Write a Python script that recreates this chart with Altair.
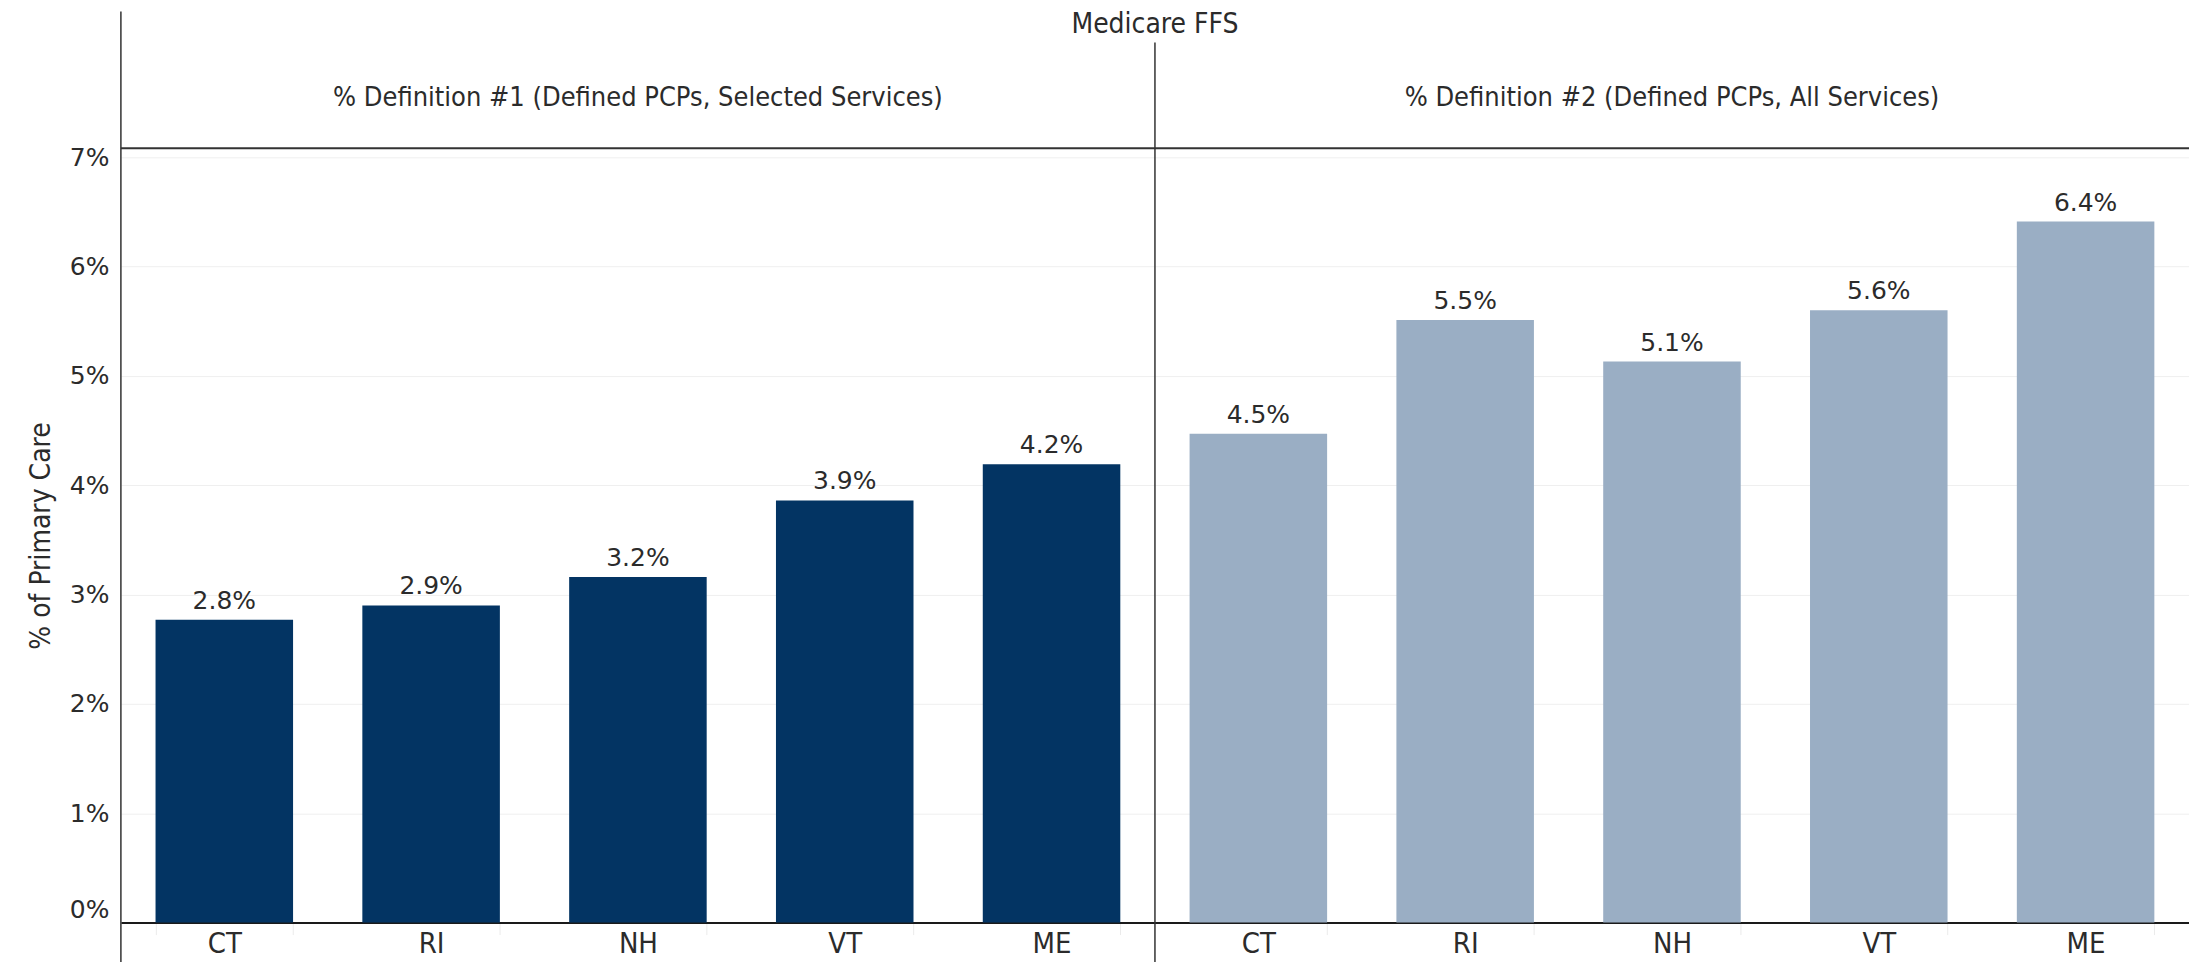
import altair as alt
import pandas as pd

# ---- data ----
states = ["CT", "RI", "NH", "VT", "ME"]
definition_keys = ["D1", "D2"]
definition_names = [
    "% Definition #1 (Defined PCPs, Selected Services)",
    "% Definition #2 (Defined PCPs, All Services)",
]
def1_values = [0.0277, 0.0290, 0.0316, 0.0386, 0.0419]
def2_values = [0.0447, 0.0551, 0.0513, 0.0560, 0.0641]
top_title = "Medicare FFS"
y_title = "% of Primary Care"
y_ticks = [0.0, 0.01, 0.02, 0.03, 0.04, 0.05, 0.06, 0.07]

NAVY = "#033463"
LIGHT = "#9aaec4"
NARROW = "Liberation Sans Narrow, Arial Narrow, DejaVu Sans Condensed, sans-serif"
WIDE = "DejaVu Sans, Verdana, sans-serif"
TXT = "#2b2b2b"

rows = []
for dk, vals in zip(definition_keys, [def1_values, def2_values]):
    for s, v in zip(states, vals):
        rows.append({"key": f"{dk}|{s}", "def": dk, "state": s, "value": v})
df = pd.DataFrame(rows)
keys = list(df["key"])

hdr = pd.DataFrame({
    "key": [f"{dk}|{states[len(states) // 2]}" for dk in definition_keys],
    "name": definition_names,
})

W, H = 2070, 775

x_enc = alt.X(
    "key:N", sort=keys,
    scale=alt.Scale(domain=keys, paddingInner=0.335, paddingOuter=0.1675),
    axis=alt.Axis(
        title=None, labelExpr="split(datum.label, '|')[1]", labelAngle=0,
        labelFont=NARROW, labelFontSize=29, labelColor=TXT,
        ticks=True, tickBand="extent", tickSize=12, tickColor="#ebebeb",
        labelPadding=-5, domainColor="#1a1a1a", domainWidth=2, grid=False,
    ),
)
y_enc = alt.Y(
    "value:Q",
    scale=alt.Scale(domain=[0, 0.0708], nice=False, zero=True),
    axis=alt.Axis(
        values=y_ticks, format=".0%", title=y_title,
        labelFont=WIDE, labelFontSize=25, labelColor=TXT, labelFlush=True,
        labelPadding=12, ticks=False, domain=False,
        grid=True, gridColor="#efefef", gridWidth=1,
        titleFont=NARROW, titleFontSize=28, titleFontWeight="normal",
        titleColor=TXT, titlePadding=14,
    ),
)

bars = alt.Chart(df).mark_bar().encode(
    x=x_enc, y=y_enc,
    color=alt.Color("def:N", scale=alt.Scale(domain=definition_keys, range=[NAVY, LIGHT]), legend=None),
)
labels = alt.Chart(df).mark_text(
    font=WIDE, fontSize=25, color=TXT, baseline="alphabetic", dy=-11
).encode(
    x=alt.X("key:N", sort=keys),
    y="value:Q",
    text=alt.Text("value:Q", format=".1%"),
)
headers = alt.Chart(hdr).mark_text(
    font=NARROW, fontSize=27, color=TXT, baseline="middle", align="center"
).encode(
    x=alt.X("key:N", sort=keys),
    y=alt.value(-50),
    text="name:N",
)
one = pd.DataFrame({"t": [top_title]})
title_mark = alt.Chart(one).mark_text(
    font=NARROW, fontSize=28, color=TXT, baseline="middle", align="center"
).encode(x=alt.value(W / 2), y=alt.value(-123), text="t:N")

left_line = alt.Chart(one).mark_rule(color="#333", strokeWidth=1.5).encode(
    x=alt.value(0), y=alt.value(-137), y2=alt.value(H + 80))
divider = alt.Chart(one).mark_rule(color="#333", strokeWidth=1.5).encode(
    x=alt.value(W / 2), y=alt.value(-106), y2=alt.value(H + 80))
header_line = alt.Chart(one).mark_rule(color="#333", strokeWidth=2).encode(
    x=alt.value(0), x2=alt.value(W + 40), y=alt.value(0))

chart = alt.layer(
    bars, labels, headers, title_mark, left_line, divider, header_line
).properties(
    width=W, height=H,
    autosize=alt.AutoSizeParams(type="none"),
    padding={"left": 113, "top": 140, "right": 0, "bottom": 39},
    background="white",
).configure_view(stroke=None)

chart.save("out.html", embed_options={"renderer": "svg", "actions": False})
